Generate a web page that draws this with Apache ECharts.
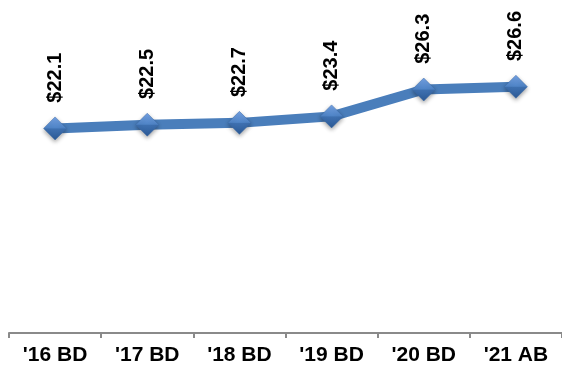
<!DOCTYPE html>
<html>
<head>
<meta charset="utf-8">
<script src="https://cdn.jsdelivr.net/npm/echarts@6/dist/echarts.min.js"></script>
<style>
html,body{margin:0;padding:0;background:#fff;}
#chart{width:562px;height:369px;}
</style>
</head>
<body>
<div id="chart"></div>
<script>
const categories = ["'16 BD", "'17 BD", "'18 BD", "'19 BD", "'20 BD", "'21 AB"];
const values = [22.1, 22.5, 22.7, 23.4, 26.3, 26.6];

const chart = echarts.init(document.getElementById('chart'));
chart.setOption({
  animation: false,
  backgroundColor: '#ffffff',
  grid: { left: 9, width: 558, top: 9, bottom: 36 },
  xAxis: {
    type: 'category',
    data: categories,
    boundaryGap: true,
    axisLine: { lineStyle: { color: '#8a8a8a', width: 2 } },
    axisTick: { show: true, length: 5, lineStyle: { color: '#8a8a8a', width: 2 } },
    axisLabel: {
      color: '#000', fontFamily: 'Liberation Sans, Arial, sans-serif',
      fontWeight: 'bold', fontSize: 21, margin: 12
    }
  },
  yAxis: {
    type: 'value', min: 0, max: 35,
    show: false,
    splitLine: { show: false }
  },
  series: [{
    type: 'line',
    data: values,
    symbol: 'diamond',
    symbolSize: 23,
    lineStyle: { color: '#4a7ebb', width: 10, cap: 'round', join: 'round' },
    itemStyle: {
      color: new echarts.graphic.LinearGradient(0, 0, 0, 1, [
        { offset: 0, color: '#76a3e6' },
        { offset: 0.48, color: '#4f84c6' },
        { offset: 0.52, color: '#3e70b0' },
        { offset: 1, color: '#2c5a96' }
      ]),
      borderColor: '#3b6aa8', borderWidth: 0.5,
      shadowColor: 'rgba(0,0,0,0.35)', shadowBlur: 4, shadowOffsetY: 2
    },
    label: {
      show: true,
      position: 'top',
      rotate: 90,
      align: 'left',
      verticalAlign: 'middle',
      distance: 14,
      color: '#000',
      fontFamily: 'Liberation Sans, Arial, sans-serif',
      fontWeight: 'bold',
      fontSize: 20,
      formatter: p => '$' + p.value.toFixed(1)
    }
  }]
});
</script>
</body>
</html>
